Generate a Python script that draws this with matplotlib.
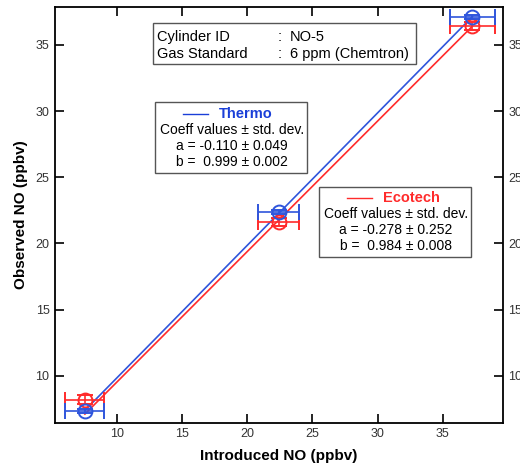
import matplotlib
matplotlib.use('Agg')
import matplotlib.pyplot as plt
from matplotlib.patches import Rectangle
import numpy as np

plt.rcParams['font.family'] = ['Liberation Sans', 'DejaVu Sans']

# data
introduced = [7.5, 22.4, 37.3]
introduced_err = [1.5, 1.6, 1.7]
thermo_obs = [7.3, 22.4, 37.1]
thermo_err = [0.15, 0.15, 0.15]
ecotech_obs = [8.2, 21.6, 36.4]
ecotech_err = [0.35, 0.3, 0.3]

thermo_coef = (-0.110, 0.049, 0.999, 0.002)   # a, sd(a), b, sd(b)
ecotech_coef = (-0.278, 0.252, 0.984, 0.008)

cylinder_id = 'NO-5'
gas_standard = '6 ppm (Chemtron)'

blue = '#2f55dc'
blue_txt = '#1a3fd8'
red = '#ff2b2b'

W, H = 520, 466
fig = plt.figure(figsize=(W / 100, H / 100), dpi=100)
L, R, T, B = 55, 503, 7, 422.7
ax = fig.add_axes([L / W, (H - B) / H, (R - L) / W, (B - T) / H])


def axpos(px, py):
    return (px - L) / (R - L), (B - py) / (B - T)


# fit lines
xfit = np.array([introduced[0], introduced[-1]])
ax.plot(xfit, ecotech_coef[0] + ecotech_coef[2] * xfit, color=red, lw=1.2, zorder=3)
ax.plot(xfit, thermo_coef[0] + thermo_coef[2] * xfit, color=blue, lw=1.2, zorder=3)

ax.errorbar(introduced, ecotech_obs, xerr=introduced_err, yerr=ecotech_err, fmt='o',
            mfc='none', mec=red, ms=10, mew=1.4, ecolor=red, elinewidth=1.2,
            capsize=5.5, capthick=1.2, zorder=4)
ax.errorbar(introduced, thermo_obs, xerr=introduced_err, yerr=thermo_err, fmt='o',
            mfc='none', mec=blue, ms=10, mew=1.4, ecolor=blue, elinewidth=1.2,
            capsize=5.5, capthick=1.2, zorder=5)

ax.set_xlim(5.2, 39.65)
ax.set_ylim(6.45, 37.87)
ax.set_xticks([10, 15, 20, 25, 30, 35])
ax.set_yticks([10, 15, 20, 25, 30, 35])
ax.tick_params(direction='in', length=6.5, width=1.2, top=True, right=True,
               labelright=True, labelsize=9, labelcolor='#333333', pad=4)
for s in ax.spines.values():
    s.set_linewidth(1.3)

ax.set_xlabel('Introduced NO (ppbv)', fontsize=11, fontweight='bold', labelpad=6)
ax.set_ylabel('Observed NO (ppbv)', fontsize=11, fontweight='bold', labelpad=5)


def box(x0, y0, x1, y1):
    a0 = axpos(x0, y1)
    a1 = axpos(x1, y0)
    ax.add_patch(Rectangle(a0, a1[0] - a0[0], a1[1] - a0[1], transform=ax.transAxes,
                           fill=True, fc='white', ec='#555555', lw=1.0, zorder=6))


# info box
box(153, 23.3, 416, 64.3)
for py, lab, val in [(36.7, 'Cylinder ID', cylinder_id), (54.3, 'Gas Standard', gas_standard)]:
    ax.text(*axpos(157, py), lab, transform=ax.transAxes, fontsize=10.5, va='center', zorder=7)
    ax.text(*axpos(278, py), ':', transform=ax.transAxes, fontsize=10.5, va='center', zorder=7)
    ax.text(*axpos(290, py), val, transform=ax.transAxes, fontsize=10.5, va='center', zorder=7)


def coef_box(x0, y0, x1, y1, name, color, tcolor, coef, ytop):
    box(x0, y0, x1, y1)
    cx = (x0 + x1) / 2
    lx0, lx1 = cx - 48, cx - 23
    p0, p1 = axpos(lx0, ytop), axpos(lx1, ytop)
    ax.plot([p0[0], p1[0]], [p0[1], p1[1]], color=color, lw=1.0, transform=ax.transAxes, zorder=7)
    ax.text(*axpos(lx1 + 11, ytop), name, transform=ax.transAxes, fontsize=10.5,
            fontweight='bold', color=tcolor, va='center', zorder=7)
    lines = ['Coeff values \u00b1 std. dev.',
             'a = %.3f \u00b1 %.3f' % (coef[0], coef[1]),
             'b =  %.3f \u00b1 %.3f' % (coef[2], coef[3])]
    for i, t in enumerate(lines):
        ax.text(*axpos(cx + 1, ytop + 16 * (i + 1)), t, transform=ax.transAxes, fontsize=10,
                ha='center', va='center', zorder=7)


coef_box(155, 101.7, 306.7, 173.3, 'Thermo', blue_txt, blue_txt, thermo_coef, 113.5)
coef_box(319.3, 187, 470.7, 256.7, 'Ecotech', red, red, ecotech_coef, 197.5)

fig.savefig('out.png', dpi=100)
